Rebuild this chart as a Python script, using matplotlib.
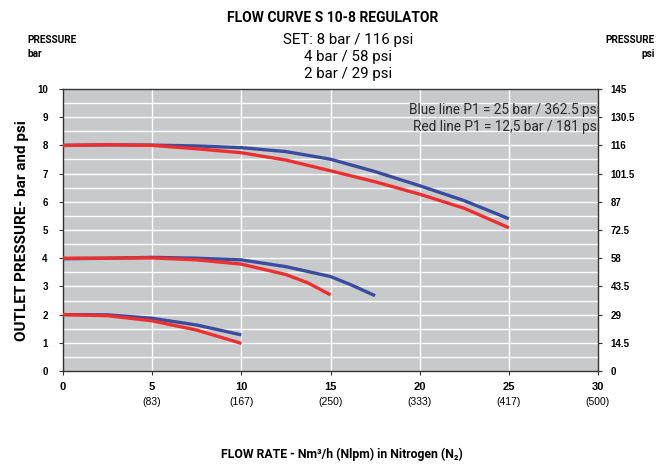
import matplotlib
matplotlib.use("Agg")
import matplotlib.pyplot as plt
import numpy as np

# Data (flow Nm3/h, outlet pressure bar)
x8 = [0, 2.5, 5, 7.5, 10, 12.5, 15, 17.5, 20, 22.5, 25]
blue8 = [8.0, 8.02, 8.01, 7.98, 7.92, 7.78, 7.51, 7.07, 6.57, 6.04, 5.40]
red8 = [8.0, 8.02, 8.0, 7.88, 7.74, 7.48, 7.10, 6.71, 6.27, 5.77, 5.08]
x4b = [0, 2.5, 5, 7.5, 10, 12.5, 15, 16.25, 17.5]
blue4 = [3.98, 4.0, 4.03, 4.0, 3.94, 3.70, 3.35, 3.03, 2.67]
x4r = [0, 2.5, 5, 7.5, 10, 12.5, 13.75, 15]
red4 = [4.0, 4.0, 4.01, 3.94, 3.79, 3.42, 3.12, 2.70]
x2 = [0, 2.5, 5, 7.5, 10]
blue2 = [2.0, 1.99, 1.87, 1.63, 1.28]
red2 = [2.0, 1.96, 1.78, 1.45, 0.98]

xticks = [0, 5, 10, 15, 20, 25, 30]
xsub = ["", "(83)", "(167)", "(250)", "(333)", "(417)", "(500)"]
yticks = list(range(0, 11))
psi_labels = ["0", "14.5", "29", "43.5", "58", "72.5", "87", "101.5", "116", "130.5", "145"]

BLUE = "#3a4c9e"
RED = "#ee2f2f"
cond = ["Roboto", "DejaVu Sans"]
arial = ["Liberation Sans", "DejaVu Sans"]

fig = plt.figure(figsize=(6.66, 4.65), dpi=100)
ax = fig.add_axes([63/666, 1-371/465, (598-63)/666, (371-89)/465])
ax.set_facecolor("#c8c9cb")
ax.set_xlim(0, 30)
ax.set_ylim(0, 10)

for yv in np.arange(0.5, 10, 0.5):
    ax.axhline(yv, color="white", lw=1.0, zorder=1)
for xv in [5, 10, 15, 20, 25]:
    ax.axvline(xv, color="white", lw=1.0, zorder=1)

lw = 2.4
kw = dict(lw=lw, solid_capstyle="butt", solid_joinstyle="round")
ax.plot(x8, blue8, color=BLUE, zorder=3, **kw)
ax.plot(x8, red8, color=RED, zorder=4, **kw)
ax.plot(x4b, blue4, color=BLUE, zorder=3, **kw)
ax.plot(x4r, red4, color=RED, zorder=4, **kw)
ax.plot(x2, blue2, color=BLUE, zorder=3, **kw)
ax.plot(x2, red2, color=RED, zorder=4, **kw)

for s in ax.spines.values():
    s.set_color("#333333")
    s.set_linewidth(1.0)

ax.set_yticks(yticks)
ax.set_yticklabels([str(v) for v in yticks], fontsize=7, fontweight="bold", family=arial)
ax.tick_params(axis="y", length=3, width=0.8, pad=8, color="#333333")
ax.set_xticks(xticks)
ax.set_xticklabels([])
ax.tick_params(axis="x", length=3, width=0.8, color="#333333")

ax2 = ax.twinx()
ax2.set_ylim(0, 10)
ax2.set_yticks(yticks)
ax2.set_yticklabels(psi_labels, fontsize=7, fontweight="bold", family=arial)
ax2.tick_params(axis="y", length=3, width=0.8, pad=6, color="#333333")
for s in ax2.spines.values():
    s.set_visible(False)

for xv, sub in zip(xticks, xsub):
    ax.text(xv, -0.38, str(xv), ha="center", va="top", fontsize=8, fontweight="bold", family=arial)
    if sub:
        ax.text(xv, -0.92, sub, ha="center", va="top", fontsize=7.5, family=arial)

ax.text(30.1, 9.5, "Blue line P1 = 25 bar / 362.5 psi\nRed line P1 = 12,5 bar / 181 psi",
        ha="right", va="top", fontsize=9.8, family=cond, color="#2a2a2a", linespacing=1.3, zorder=5)

fig.text(333/666, 1-18/465, "FLOW CURVE S 10-8 REGULATOR", ha="center", va="center",
         fontsize=10, fontweight="bold", family=cond)
for yy, t in [(40, "SET: 8 bar / 116 psi"), (57, "4 bar / 58 psi"), (74, "2 bar / 29 psi")]:
    fig.text(348/666, 1-yy/465, t, ha="center", va="center", fontsize=10.8, family=cond)
fig.text(27/666, 1-40/465, "PRESSURE", ha="left", va="center", fontsize=7.2, fontweight="bold", family=cond)
fig.text(27/666, 1-54/465, "bar", ha="left", va="center", fontsize=7.2, fontweight="bold", family=cond)
fig.text(655/666, 1-40/465, "PRESSURE", ha="right", va="center", fontsize=7.2, fontweight="bold", family=cond)
fig.text(655/666, 1-54/465, "psi", ha="right", va="center", fontsize=7.2, fontweight="bold", family=cond)

fig.text(22/666, 1-231/465, "OUTLET PRESSURE- bar and psi", rotation=90, ha="center", va="center",
         fontsize=11, fontweight="bold", family=cond)
fig.text(342/666, 1-454/465, "FLOW RATE - Nm³/h (Nlpm) in Nitrogen (N₂)", ha="center", va="center",
         fontsize=8.8, fontweight="bold", family=cond)

fig.savefig("out.png", dpi=100)
